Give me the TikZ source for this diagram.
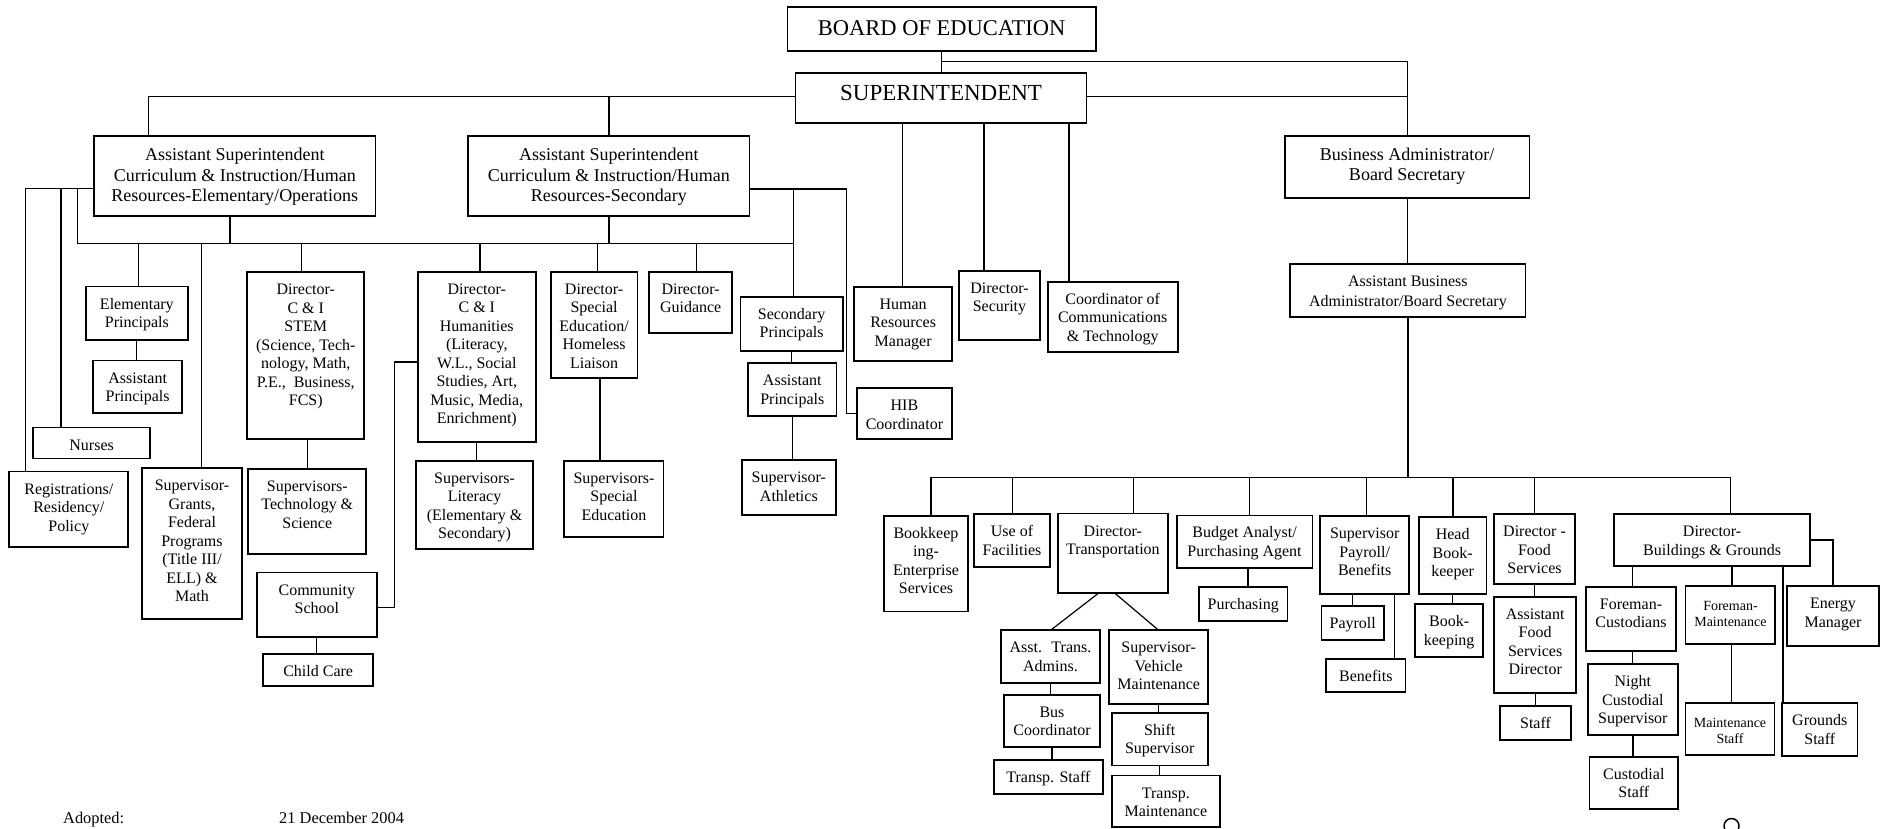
\documentclass[tikz,border=0pt]{standalone}
\usepackage{fontspec}
\setmainfont{Liberation Serif}
\newcommand\fBoard{\fontsize{22.5}{26}\selectfont}
\newcommand\fSup{\fontsize{23}{27}\selectfont}
\newcommand\fBig{\fontsize{18}{20.8}\selectfont}
\newcommand\fA{\fontsize{16}{18.5}\selectfont}
\newcommand\fS{\fontsize{14}{16.5}\selectfont}
\newcommand\fAba{\fontsize{16}{19.3}\selectfont}
% generic box: font, baseline offset, name, x1, y1, x2, y2, text
\newcommand\gbx[8]{\node[box,font=#1] (#3) at ({(#4+#6)/2},{(#5+#7)/2})
  {\parbox[c][\dimexpr #7pt-#5pt\relax][t]{\dimexpr #6pt-#4pt\relax}{\centering\rule{0pt}{#2pt}#8\par}};}
\newcommand\bx[6]{\gbx{\fA}{22.5}{#1}{#2}{#3}{#4}{#5}{#6}}
\begin{document}
\begin{tikzpicture}[x=1pt,y=-1pt,
  box/.style={draw,line width=1.7pt,inner sep=0pt,outer sep=0pt},
  conn/.style={line width=1.2pt},
  note/.style={font=\fontsize{16.4}{19}\selectfont,inner sep=0pt,anchor=base west}]
\fill[white] (0,0) rectangle (1886,828);
\useasboundingbox (0,0) rectangle (1886,828);

% ---------- top level ----------
\gbx{\fBoard}{28.5}{board}{787.6}{7.3}{1095.7}{51}{BOARD OF EDUCATION}
\gbx{\fSup}{27.4}{supt}{795.5}{72.7}{1086.6}{123.3}{SUPERINTENDENT}
\gbx{\fBig}{24.5}{aselem}{93.9}{135.7}{375.6}{216}{Assistant Superintendent\\Curriculum \& Instruction/Human\\Resources-Elementary/Operations}
\gbx{\fBig}{24.5}{asec}{468.3}{135.7}{749.5}{216}{Assistant Superintendent\\Curriculum \& Instruction/Human\\Resources-Secondary}
\gbx{\fBig}{24.3}{ba}{1285}{135.7}{1529.4}{197.7}{Business Administrator/\\Board Secretary}
\gbx{\fAba}{22.7}{aba}{1290.3}{264}{1525.5}{316.7}{Assistant Business\\Administrator/Board Secretary}

% ---------- elementary side ----------
\bx{elemp}{86}{286.6}{187.7}{339.8}{Elementary\\Principals}
\bx{eap}{93.3}{360.5}{182}{413}{Assistant\\Principals}
\bx{nurses}{33}{427.5}{150.3}{458.5}{Nurses}
\bx{reg}{9.3}{471.5}{128.3}{546.9}{Registrations/\\Residency/\\Policy}
\bx{grants}{141.7}{468}{242.3}{619.2}{Supervisor-\\Grants,\\Federal\\Programs\\(Title III/\\ELL) \&\\Math}
\bx{stem}{247.3}{272}{364.3}{439}{Director-\\C \& I\\STEM\\(Science, Tech-\\nology, Math,\\P.E.,~ Business,\\FCS)}
\bx{suptech}{248.3}{468.8}{366.3}{554}{Supervisors-\\Technology \&\\Science}
\bx{cs}{257}{572.5}{376.7}{636.8}{Community\\School}
\bx{cc}{263}{654}{373.3}{686.2}{Child Care}

% ---------- secondary side ----------
\bx{hum}{417.9}{271.7}{535.7}{441.7}{Director-\\C \& I\\Humanities\\(Literacy,\\W.L., Social\\Studies, Art,\\Music, Media,\\Enrichment)}
\bx{lit}{416}{460.7}{533.2}{549.3}{Supervisors-\\Literacy\\(Elementary \&\\Secondary)}
\bx{sped}{550.7}{271.7}{637.5}{378.3}{Director-\\Special\\Education/\\Homeless\\Liaison}
\bx{supsped}{564.3}{460.7}{663.6}{536.7}{Supervisors-\\Special\\Education}
\bx{guid}{649.3}{271.7}{732}{332.7}{Director-\\Guidance}
\bx{secp}{740.4}{296.7}{842.9}{351}{Secondary\\Principals}
\bx{sap}{748.2}{363.3}{836.4}{415.7}{Assistant\\Principals}
\bx{ath}{742}{460}{835.7}{515}{Supervisor-\\Athletics}
\bx{hib}{857}{388.3}{951.8}{439}{HIB\\Coordinator}

% ---------- superintendent staff ----------
\bx{hr}{854}{286.7}{952.3}{361}{Human\\Resources\\Manager}
\bx{sec}{959}{270.7}{1040}{340}{Director-\\Security}
\bx{coord}{1047.7}{281.7}{1177.7}{352.3}{Coordinator of\\Communications\\\& Technology}

% ---------- business side ----------
\bx{bk}{884}{515.8}{968}{611.4}{Bookkeep\\ing-\\Enterprise\\Services}
\bx{use}{974}{514.3}{1050}{567.2}{Use of\\Facilities}
\bx{trans}{1058}{513.6}{1167.7}{593.3}{Director-\\Transportation}
\bx{ata}{1001}{630.3}{1100}{682.8}{Asst.~ Trans.\\Admins.}
\bx{busc}{1004}{694.8}{1100}{747.3}{Bus\\Coordinator}
\bx{tstaff}{994}{760}{1102.7}{793.7}{Transp. Staff}
\bx{svm}{1109}{630.3}{1208.3}{703.8}{Supervisor-\\Vehicle\\Maintenance}
\bx{shift}{1111.7}{712.9}{1207.7}{765.4}{Shift\\Supervisor}
\bx{tmaint}{1111.7}{775.6}{1220}{827}{Transp.\\Maintenance}
\bx{budget}{1176.7}{515.4}{1312.4}{568.3}{Budget Analyst/\\Purchasing Agent}
\bx{purch}{1199}{586.7}{1287.5}{621}{Purchasing}
\bx{payr}{1320.3}{516}{1409.1}{594}{Supervisor\\Payroll/\\Benefits}
\bx{payroll}{1321.6}{605.7}{1383.8}{640}{Payroll}
\bx{benefits}{1326}{658.7}{1405.6}{692.3}{Benefits}
\bx{head}{1418.75}{517.3}{1486.6}{594}{Head\\Book-\\keeper}
\bx{bkg}{1415.2}{604.3}{1483}{656.7}{Book-\\keeping}
\bx{food}{1494}{514}{1575}{584}{Director -\\Food\\Services}
\bx{afsd}{1494}{596.7}{1576.3}{692.7}{Assistant\\Food\\Services\\Director}
\bx{staff}{1500}{705.7}{1571}{740}{Staff}
\bx{bg}{1614.3}{514}{1809.9}{566}{Director-\\Buildings \& Grounds}
\bx{fc}{1585.9}{586.7}{1676}{650.7}{Foreman-\\Custodians}
\bx{ncs}{1588}{664.3}{1677.75}{735}{Night\\Custodial\\Supervisor}
\bx{cstaff}{1589.4}{756.7}{1678.2}{809}{Custodial\\Staff}
\gbx{\fS}{24}{fm}{1685.6}{586}{1775.3}{644}{Foreman-\\Maintenance}
\gbx{\fS}{24}{ms}{1685.6}{703.3}{1774.4}{755}{Maintenance\\Staff}
\bx{em}{1787}{586}{1879}{646}{Energy\\Manager}
\bx{gs}{1781.9}{703.3}{1857.6}{756}{Grounds\\Staff}

% ---------- footer ----------
\node[note] (adopted) at (63,823.5) {Adopted:};
\node[note] (adate) at (279,823.5) {21 December 2004};
\draw[line width=1.5pt] (1731.5,826) circle (7.5);

% ---------- helper coordinates ----------
\coordinate (yJ) at (0,61.7);
\coordinate (yS) at (0,96.7);
\coordinate (yE) at (0,188.3);
\coordinate (yR) at (0,189);
\coordinate (yBus) at (0,243.3);
\coordinate (yRB) at (0,477.3);
\coordinate (xA) at (148.4,0);
\coordinate (xR) at (25.4,0);
\coordinate (xN) at (61,0);
\coordinate (xB) at (77.3,0);
\coordinate (xD) at (230,0);
\coordinate (xSP) at (793.3,0);
\coordinate (xH) at (846.7,0);
\coordinate (xC) at (394.3,0);
\coordinate (yC1) at (0,607.7);
\coordinate (yC2) at (0,362);
\coordinate (xSS) at (600,0);
\coordinate (xT1) at (1098.3,0);
\coordinate (xT2) at (1115,0);

% ---------- connectors: top ----------
\draw[conn] (board.south) -- (board.south |- supt.north);
\draw[conn] (board.south |- yJ) -| (ba.north);
\draw[conn] (supt.east |- yS) -| (ba.north);
\draw[conn] (supt.west |- yS) -| (xA |- aselem.north);
\draw[conn] (asec.north |- yS) -- (asec.north);
\draw[conn] (ba.south) -- (ba.south |- aba.north);

% ---------- connectors: elementary ----------
\draw[conn] (aselem.west |- yE) -- (xR |- yE) -- (xR |- reg.north);
\draw[conn] (xN |- yE) -- (xN |- nurses.north);
\draw[conn] (xB |- yE) -- (xB |- yBus) -- (xSP |- yBus);
\draw[conn] (xD |- aselem.south) -- (xD |- yBus);
\draw[conn] (asec.south) -- (asec.south |- yBus);
\foreach \x/\n in {138.5/elemp,201.7/grants,301.5/stem,480/hum,597.5/sped,696.5/guid}
  \draw[conn] (\x,243.3) -- (\x,243.3 |- \n.north);
\draw[conn] (elemp.south) -- (elemp.south |- eap.north);
\draw[conn] (suptech.north |- stem.south) -- (suptech.north);
\draw[conn] (cs.south) -- (cs.south |- cc.north);
\draw[conn] (cs.east |- yC1) -- (xC |- yC1) -- (xC |- yC2) -- (hum.west |- yC2);

% ---------- connectors: secondary ----------
\draw[conn] (asec.east |- yR) -- (xH |- yR) -- (xH |- hib.west) -- (hib.west);
\draw[conn] (xSP |- yR) -- (xSP |- secp.north);
\draw[conn] (hum.south) -- (hum.south |- lit.north);
\draw[conn] (xSS |- sped.south) -- (xSS |- supsped.north);
\draw[conn] (secp.south) -- (secp.south |- sap.north);
\draw[conn] (sap.south) -- (sap.south |- ath.north);

% ---------- connectors: superintendent staff ----------
\foreach \x/\n in {902.7/hr,984/sec,1069/coord}
  \draw[conn] (\x,123.3) -- (\x,123.3 |- \n.north);

% ---------- connectors: business ----------
\draw[conn] (aba.south) -- (aba.south |- yRB);
\draw[conn] (931,477.3) -- (1730.7,477.3);
\foreach \x/\n in {931/bk,1012.7/use,1133.3/trans,1249.4/budget,1366.3/payr,1452.9/head,1534.7/food,1730.7/bg}
  \draw[conn] (\x,477.3) -- (\x,477.3 |- \n.north);
\draw[conn] (xT1 |- trans.south) -- (ata.north);
\draw[conn] (xT2 |- trans.south) -- (svm.north);
\draw[conn] (ata.south) -- (ata.south |- busc.north);
\draw[conn] (busc.south) -- (busc.south |- tstaff.north);
\draw[conn] (svm.south) -- (svm.south |- shift.north);
\draw[conn] (shift.south) -- (shift.south |- tmaint.north);
\draw[conn] (1248,568.3) -- (1248,568.3 |- purch.north);
\draw[conn] (1352.3,594) -- (1352.3,594 |- payroll.north);
\draw[conn] (1394.7,594) -- (1394.7,594 |- benefits.north);
\draw[conn] (head.south) -- (head.south |- bkg.north);
\draw[conn] (food.south) -- (food.south |- afsd.north);
\draw[conn] (afsd.south) -- (afsd.south |- staff.north);
\draw[conn] (1632.3,566) -- (1632.3,566 |- fc.north);
\draw[conn] (1632.3,650.7) -- (1632.3,650.7 |- ncs.north);
\draw[conn] (1633,735) -- (1633,735 |- cstaff.north);
\draw[conn] (1732,566) -- (1732,566 |- fm.north);
\draw[conn] (1731.6,644) -- (1731.6,644 |- ms.north);
\draw[conn] (1783,566) -- (1783,566 |- gs.north);
\draw[conn] (bg.east) -| (em.north);
\end{tikzpicture}
\end{document}
